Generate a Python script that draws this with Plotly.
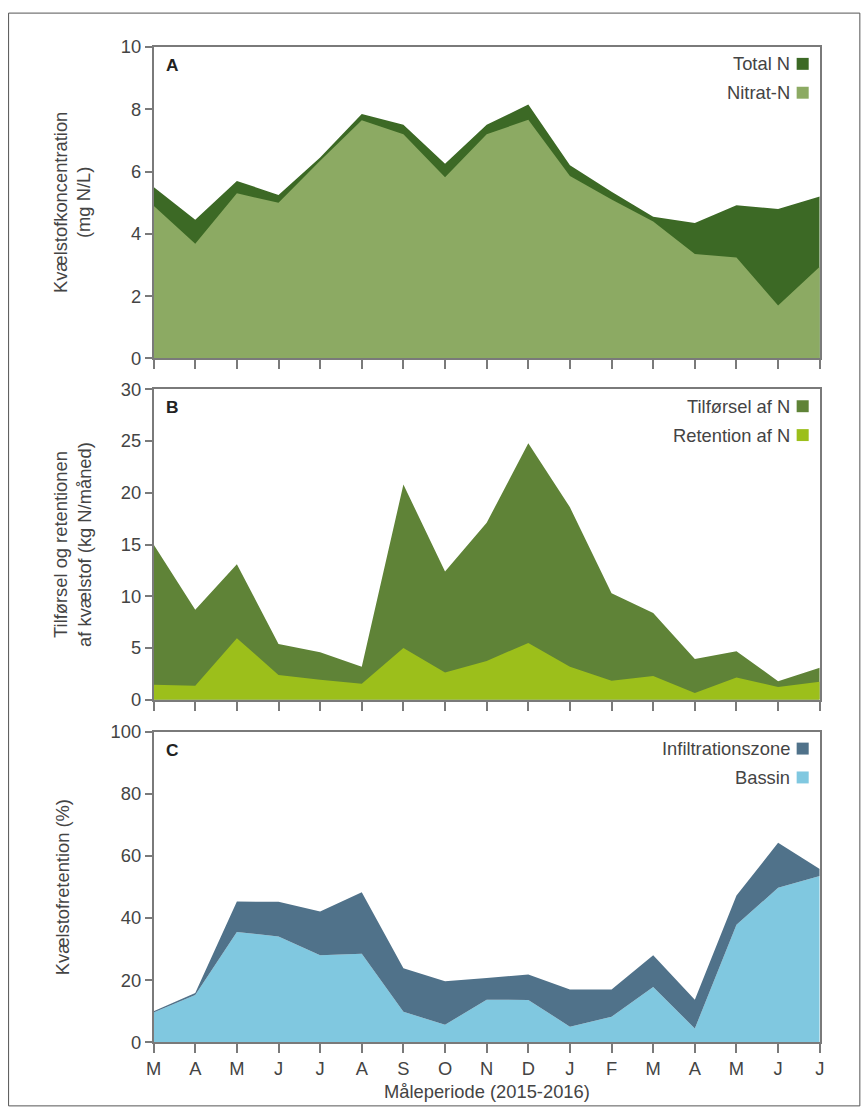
import plotly.graph_objects as go

# Measurement months, March 2015 - July 2016
months = ["M", "A", "M", "J", "J", "A", "S", "O", "N", "D", "J", "F", "M", "A", "M", "J", "J"]

# Panel A: nitrogen concentration (mg N/L)
total_n = [5.5, 4.45, 5.7, 5.25, 6.45, 7.85, 7.5, 6.25, 7.5, 8.15, 6.2, 5.35, 4.55, 4.35, 4.92, 4.8, 5.2]
nitrat_n = [4.9, 3.68, 5.3, 5.0, 6.35, 7.65, 7.2, 5.82, 7.2, 7.66, 5.86, 5.1, 4.4, 3.35, 3.24, 1.7, 2.94]

# Panel B: nitrogen load and retention (kg N/month)
tilforsel = [15.0, 8.7, 13.1, 5.4, 4.6, 3.2, 20.8, 12.4, 17.1, 24.8, 18.6, 10.3, 8.4, 3.95, 4.7, 1.8, 3.1]
retention = [1.45, 1.35, 5.95, 2.4, 1.95, 1.55, 5.0, 2.65, 3.75, 5.5, 3.2, 1.85, 2.3, 0.65, 2.15, 1.25, 1.75]

# Panel C: nitrogen retention (%), basin plus infiltration zone (stacked)
bassin = [9.6, 15.2, 35.5, 34.0, 28.0, 28.5, 9.8, 5.6, 13.7, 13.6, 5.0, 8.2, 17.8, 4.4, 37.8, 49.7, 53.5]
infiltration = [0.4, 0.6, 9.8, 11.2, 14.1, 19.8, 14.0, 14.0, 7.0, 8.2, 12.0, 8.8, 10.2, 9.3, 9.4, 14.5, 2.3]

W, H = 864, 1115
PAGE_MARGIN = 8                       # default body margin around the figure
SX = (W + 2 * PAGE_MARGIN) / W        # page -> view scaling
SY = (H + 2 * PAGE_MARGIN) / H
FONT = "Liberation Sans, Arial, sans-serif"
AXIS_COL = "#7a7a7a"
TEXT_COL = "#444444"
FS = 18 * SX

C_TOTAL = "#3c6925"
C_NITRAT = "#8caa63"
C_TILF = "#5f8337"
C_RET = "#9cbf1b"
C_INF = "#50728a"
C_BAS = "#80c8e0"


def px(x):
    """View x pixel -> paper fraction."""
    return (x * SX - PAGE_MARGIN) / W


def py(y):
    """View y pixel -> paper fraction."""
    return 1 - (y * SY - PAGE_MARGIN) / H


x = list(range(len(months)))
X0, X1 = 153, 817
panels = [  # (top px, bottom px)
    (44, 357),
    (388, 700),
    (732, 1044),
]

fig = go.Figure()

# Panel A
fig.add_trace(go.Scatter(x=x, y=total_n, mode="lines", fill="tozeroy", line=dict(width=0, color=C_TOTAL),
                         fillcolor=C_TOTAL, name="Total N", xaxis="x", yaxis="y"))
fig.add_trace(go.Scatter(x=x, y=nitrat_n, mode="lines", fill="tozeroy", line=dict(width=0, color=C_NITRAT),
                         fillcolor=C_NITRAT, name="Nitrat-N", xaxis="x", yaxis="y"))
# Panel B
fig.add_trace(go.Scatter(x=x, y=tilforsel, mode="lines", fill="tozeroy", line=dict(width=0, color=C_TILF),
                         fillcolor=C_TILF, name="Tilførsel af N", xaxis="x2", yaxis="y2"))
fig.add_trace(go.Scatter(x=x, y=retention, mode="lines", fill="tozeroy", line=dict(width=0, color=C_RET),
                         fillcolor=C_RET, name="Retention af N", xaxis="x2", yaxis="y2"))
# Panel C (stacked)
fig.add_trace(go.Scatter(x=x, y=bassin, mode="lines", stackgroup="c", line=dict(width=0, color=C_BAS),
                         fillcolor=C_BAS, name="Bassin", xaxis="x3", yaxis="y3"))
fig.add_trace(go.Scatter(x=x, y=infiltration, mode="lines", stackgroup="c", line=dict(width=0, color=C_INF),
                         fillcolor=C_INF, name="Infiltrationszone", xaxis="x3", yaxis="y3"))

common_x = dict(
    range=[0, len(months) - 1], tickvals=x, ticktext=months, ticks="outside", ticklen=9, tickwidth=1.5,
    tickcolor=AXIS_COL, showline=True, linecolor=AXIS_COL, linewidth=1.5, mirror=True, showgrid=False,
    zeroline=False, domain=[px(X0), px(X1)], tickfont=dict(family=FONT, size=FS, color=TEXT_COL),
)
common_y = dict(
    ticks="outside", ticklen=7, tickwidth=1.5, tickcolor=AXIS_COL, showline=True, linecolor=AXIS_COL,
    linewidth=1.5, mirror=True, showgrid=False, zeroline=False,
    tickfont=dict(family=FONT, size=FS, color=TEXT_COL),
)

y_ranges = [([0, 10], 2), ([0, 30], 5), ([0, 100], 20)]
layout_axes = {}
for i, ((top, bot), (rng, dt)) in enumerate(zip(panels, y_ranges)):
    sfx = "" if i == 0 else str(i + 1)
    xa = dict(common_x, anchor="y" + sfx, showticklabels=(i == 2))
    ya = dict(common_y, anchor="x" + sfx, range=rng, dtick=dt, domain=[py(bot), py(top)])
    layout_axes["xaxis" + sfx] = xa
    layout_axes["yaxis" + sfx] = ya

annotations = []
shapes = []

# Panel letters
for letter, (top, bot) in zip(["A", "B", "C"], panels):
    annotations.append(dict(text="<b>" + letter + "</b>", x=px(163), y=py(top + 18), xref="paper", yref="paper",
                            xanchor="left", yanchor="middle", showarrow=False,
                            font=dict(family=FONT, size=17 * SX, color="#222")))

# Legend rows (label, colour) per panel
legends = [
    [("Total N", C_TOTAL), ("Nitrat-N", C_NITRAT)],
    [("Tilførsel af N", C_TILF), ("Retention af N", C_RET)],
    [("Infiltrationszone", C_INF), ("Bassin", C_BAS)],
]
for (top, bot), rows in zip(panels, legends):
    for j, (label, col) in enumerate(rows):
        yc = top + 17 + j * 29
        annotations.append(dict(text=label, x=px(789), y=py(yc), xref="paper", yref="paper",
                                xanchor="right", yanchor="middle", showarrow=False,
                                font=dict(family=FONT, size=FS, color=TEXT_COL)))
        shapes.append(dict(type="rect", xref="paper", yref="paper", x0=px(794), x1=px(806),
                           y0=py(yc + 6), y1=py(yc - 6), fillcolor=col, line=dict(width=0)))

# Y-axis titles
titles = ["Kvælstofkoncentration<br>(mg N/L)", "Tilførsel og retentionen<br>af kvælstof (kg N/måned)",
          "Kvælstofretention (%)"]
title_x = [72, 72, 63]
for (top, bot), t, tx in zip(panels, titles, title_x):
    annotations.append(dict(text=t, x=px(tx), y=py((top + bot) / 2), xref="paper", yref="paper",
                            xanchor="center", yanchor="middle", textangle=-90, showarrow=False,
                            font=dict(family=FONT, size=FS, color=TEXT_COL)))

# X-axis title
annotations.append(dict(text="Måleperiode (2015-2016)", x=px((X0 + X1) / 2), y=py(1094), xref="paper",
                        yref="paper", xanchor="center", yanchor="middle", showarrow=False,
                        font=dict(family=FONT, size=FS, color=TEXT_COL)))

# Outer frame
shapes.append(dict(type="rect", xref="paper", yref="paper", x0=max(px(7), 0.6 / W), x1=px(857),
                   y0=py(1108), y1=py(10),
                   line=dict(color="#555555", width=1), fillcolor="rgba(0,0,0,0)", layer="below"))

fig.update_layout(
    width=W, height=H, margin=dict(l=0, r=0, t=0, b=0), showlegend=False,
    paper_bgcolor="white", plot_bgcolor="white", annotations=annotations, shapes=shapes,
    **layout_axes,
)

fig.write_html("out.html")
